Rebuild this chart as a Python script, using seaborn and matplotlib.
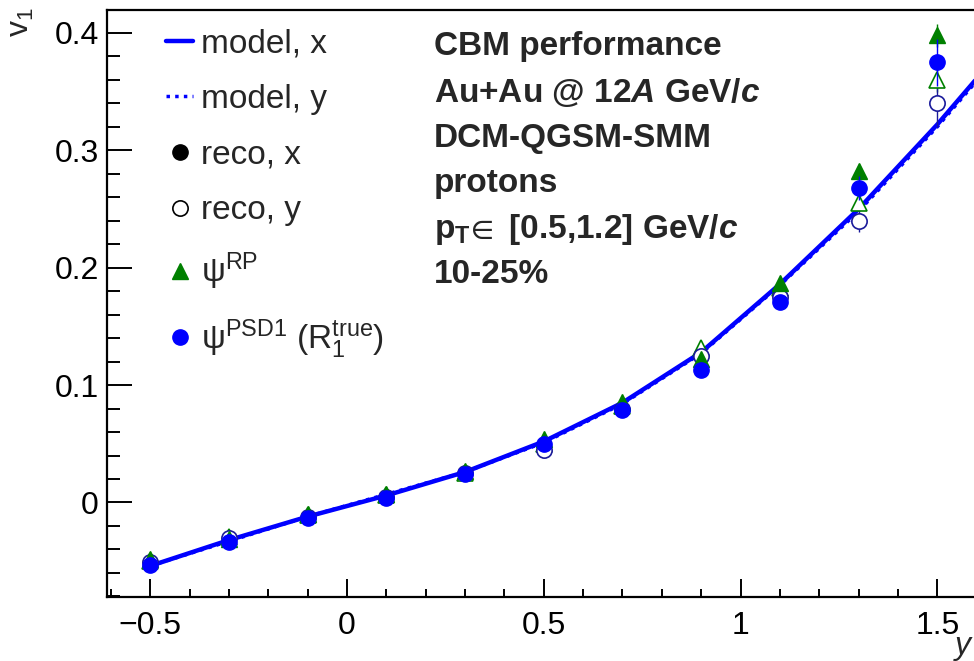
import numpy as np
import pandas as pd
import matplotlib
matplotlib.use("Agg")
import matplotlib.pyplot as plt
from matplotlib.lines import Line2D
from matplotlib.ticker import MultipleLocator
import seaborn as sns

# rapidity bins
rapidity = [-0.5, -0.3, -0.1, 0.1, 0.3, 0.5, 0.7, 0.9, 1.1, 1.3, 1.5]

# model curves
model_rapidity = [-0.5, -0.3, -0.1, 0.1, 0.3, 0.5, 0.7, 0.9, 1.1, 1.3, 1.5, 1.7]
model_x = [-0.054, -0.032, -0.012, 0.006, 0.026, 0.052, 0.085, 0.128, 0.186, 0.250, 0.322, 0.400]
model_y = [-0.054, -0.033, -0.012, 0.007, 0.026, 0.051, 0.084, 0.127, 0.185, 0.248, 0.320, 0.398]

# reconstructed v1
rp_x = [-0.048, -0.031, -0.010, 0.007, 0.027, 0.054, 0.086, 0.122, 0.187, 0.282, 0.398]
rp_y = [-0.050, -0.029, -0.011, 0.006, 0.025, 0.050, 0.082, 0.132, 0.183, 0.255, 0.360]
psd_x = [-0.053, -0.034, -0.013, 0.004, 0.024, 0.050, 0.079, 0.113, 0.171, 0.268, 0.375]
psd_y = [-0.051, -0.030, -0.012, 0.005, 0.025, 0.045, 0.080, 0.125, 0.175, 0.240, 0.340]
psd_err = [0.002, 0.002, 0.002, 0.002, 0.002, 0.003, 0.003, 0.004, 0.005, 0.010, 0.020]
rp_err = [0.001, 0.001, 0.001, 0.001, 0.001, 0.002, 0.002, 0.003, 0.004, 0.006, 0.010]

sns.set_theme(style="ticks")
plt.rcParams["font.family"] = ["Liberation Sans", "DejaVu Sans"]
plt.rcParams["mathtext.fontset"] = "custom"
plt.rcParams["mathtext.rm"] = "Liberation Sans"
plt.rcParams["mathtext.it"] = "Liberation Sans:italic"
plt.rcParams["mathtext.bf"] = "Liberation Sans:bold"
plt.rcParams["mathtext.bfit"] = "Liberation Sans:bold:italic"
plt.rcParams["mathtext.fallback"] = "stixsans"

blue = "#0000ff"
green = "#008000"
navy = "#1a1a9a"

fig = plt.figure(figsize=(9.74, 6.61), dpi=100)
ax = fig.add_axes([107 / 974, 64 / 661, 909 / 974, 587 / 661])

model_df = pd.DataFrame({"y": model_rapidity, "x_comp": model_x, "y_comp": model_y})

sns.lineplot(data=model_df, x="y", y="x_comp", ax=ax, color=blue, lw=3.2, zorder=2)
sns.lineplot(data=model_df, x="y", y="y_comp", ax=ax, color=blue, lw=2.5,
             linestyle=(0, (1, 1.5)), zorder=2)

ax.errorbar(rapidity, rp_y, yerr=rp_err, fmt="^", ms=11, mfc="white", mec=green,
            mew=1.2, ecolor=green, elinewidth=1, capsize=0, zorder=3)
ax.errorbar(rapidity, psd_y, yerr=psd_err, fmt="o", ms=11, mfc="white", mec=navy,
            mew=1.2, ecolor=navy, elinewidth=1, capsize=0, zorder=3)
ax.errorbar(rapidity, rp_x, yerr=rp_err, fmt="^", ms=11, color=green,
            ecolor=green, elinewidth=1, capsize=0, zorder=4)
ax.errorbar(rapidity, psd_x, yerr=psd_err, fmt="o", ms=11, color=blue,
            ecolor=blue, elinewidth=1, capsize=0, zorder=5)

ax.set_xlim(-0.61, 1.7)
ax.set_ylim(-0.0805, 0.4195)
ax.set_xlabel("")
ax.set_ylabel("")

ax.xaxis.set_minor_locator(MultipleLocator(0.1))
ax.yaxis.set_minor_locator(MultipleLocator(0.02))
ax.set_xticks([-0.5, 0, 0.5, 1, 1.5])
ax.set_xticklabels(["\u22120.5", "0", "0.5", "1", "1.5"])
ax.set_yticks([0, 0.1, 0.2, 0.3, 0.4])
ax.set_yticklabels(["0", "0.1", "0.2", "0.3", "0.4"])

ax.tick_params(axis="both", which="both", direction="in", top=False, right=False,
               colors="black", labelsize=23, width=1.4)
ax.tick_params(axis="y", which="major", length=18, pad=6)
ax.tick_params(axis="y", which="minor", length=9)
ax.tick_params(axis="x", which="major", length=13, pad=10)
ax.tick_params(axis="x", which="minor", length=6)
for sp in ax.spines.values():
    sp.set_linewidth(1.6)
    sp.set_color("black")

handles = [
    Line2D([], [], color=blue, lw=3.2),
    Line2D([], [], color=blue, lw=2.5, linestyle=(0, (1, 1.5))),
    Line2D([], [], color="black", marker="o", ms=11, lw=0),
    Line2D([], [], color="black", marker="o", ms=11, lw=0, mfc="white", mew=1.2),
    Line2D([], [], color=green, marker="^", ms=11, lw=0),
    Line2D([], [], color=blue, marker="o", ms=11, lw=0),
]
labels = [
    "model, x",
    "model, y",
    "reco, x",
    "reco, y",
    "\u03c8$^{\\mathrm{RP}}$",
    "\u03c8$^{\\mathrm{PSD1}}$ (R$_1^{\\mathrm{true}}$)",
]
leg = ax.legend(handles, labels, loc="upper left", bbox_to_anchor=(0.045, 1.0),
                frameon=False, fontsize=24, handlelength=0.8, handletextpad=0.25,
                labelspacing=0.74, borderaxespad=0.15)

info = [
    "CBM performance",
    "Au+Au @ 12$\\mathbfit{A}$ GeV/$\\mathbfit{c}$",
    "DCM-QGSM-SMM",
    "protons",
    "p$_{\\mathbf{T}}\\!\\in$ [0.5,1.2] GeV/$\\mathbfit{c}$",
    "10-25%",
]
for i, line in enumerate(info):
    fig.text(434 / 974, 1 - (47 + 45.5 * i) / 661, line, fontsize=24,
             fontweight="bold", va="center", ha="left")

fig.text(6 / 974, 1 - 22 / 661, "v$_1$", fontsize=23, rotation=90,
         va="center", ha="left")
fig.text(955 / 974, 0 / 661, "y", fontsize=23, style="italic",
         va="bottom", ha="left")

fig.savefig("out.png", dpi=100)
